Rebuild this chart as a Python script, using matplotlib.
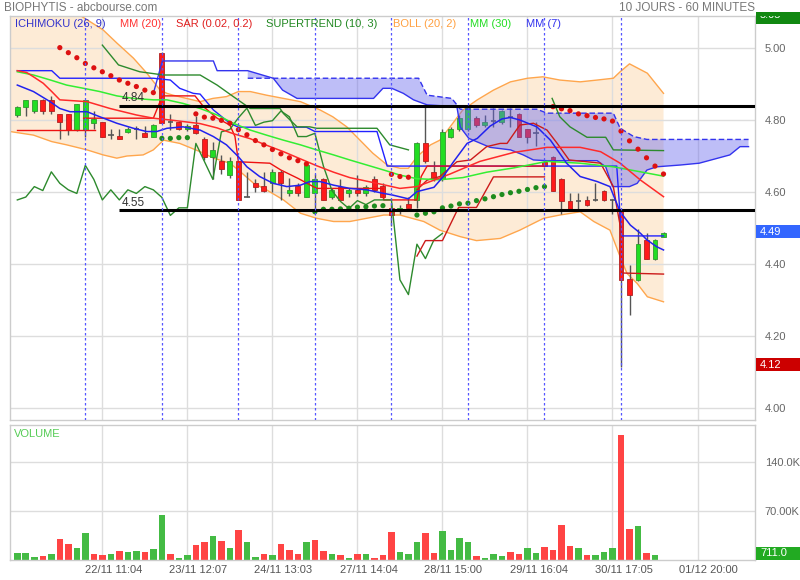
import numpy as np
import matplotlib
matplotlib.use('Agg')
import matplotlib.pyplot as plt
from matplotlib.patches import Rectangle
from matplotlib.transforms import blended_transform_factory, Bbox

plt.rcParams['font.family'] = ['Liberation Sans', 'DejaVu Sans']

# ---------------- data ----------------
opens = [4.815, 4.835, 4.824, 4.856, 4.856, 4.817, 4.817, 4.772, 4.772, 4.793,
         4.794, 4.757, 4.756, 4.766, 4.774, 4.765, 4.754, 4.985, 4.794, 4.795,
         4.775, 4.785, 4.746, 4.696, 4.685, 4.646, 4.685, 4.586, 4.624, 4.617,
         4.624, 4.656, 4.596, 4.617, 4.585, 4.596, 4.635, 4.585, 4.615, 4.596,
         4.606, 4.596, 4.635, 4.617, 4.556, 4.546, 4.567, 4.578, 4.735, 4.656,
         4.635, 4.754, 4.774, 4.774, 4.806, 4.785, 4.798, 4.794, 4.809, 4.817,
         4.774, 4.763, 4.684, 4.696, 4.637, 4.576, 4.576, 4.578, 4.578, 4.604,
         4.578, 4.547, 4.358, 4.356, 4.467, 4.415, 4.476]
highs = [4.840, 4.856, 4.856, 4.858, 4.867, 4.817, 4.817, 4.844, 4.856, 4.826,
         4.794, 4.776, 4.776, 4.780, 4.783, 4.783, 4.790, 4.990, 4.817, 4.797,
         4.790, 4.810, 4.754, 4.740, 4.702, 4.696, 4.685, 4.656, 4.637, 4.656,
         4.665, 4.660, 4.640, 4.625, 4.680, 4.650, 4.640, 4.610, 4.635, 4.610,
         4.646, 4.620, 4.645, 4.625, 4.570, 4.565, 4.585, 4.740, 4.837, 4.685,
         4.776, 4.780, 4.815, 4.838, 4.810, 4.815, 4.833, 4.828, 4.833, 4.820,
         4.776, 4.794, 4.688, 4.700, 4.640, 4.598, 4.598, 4.590, 4.624, 4.606,
         4.580, 4.550, 4.396, 4.496, 4.487, 4.470, 4.488]
lows = [4.808, 4.810, 4.820, 4.817, 4.817, 4.748, 4.757, 4.770, 4.754, 4.776,
        4.754, 4.748, 4.746, 4.764, 4.748, 4.754, 4.752, 4.793, 4.772, 4.772,
        4.770, 4.760, 4.690, 4.635, 4.650, 4.640, 4.578, 4.585, 4.600, 4.600,
        4.600, 4.578, 4.590, 4.590, 4.585, 4.550, 4.578, 4.580, 4.578, 4.585,
        4.590, 4.590, 4.600, 4.580, 4.505, 4.540, 4.555, 4.556, 4.680, 4.630,
        4.630, 4.750, 4.770, 4.770, 4.780, 4.780, 4.781, 4.790, 4.781, 4.754,
        4.737, 4.728, 4.670, 4.604, 4.539, 4.550, 4.554, 4.560, 4.575, 4.575,
        4.539, 4.115, 4.259, 4.354, 4.413, 4.410, 4.476]
closes = [4.835, 4.856, 4.856, 4.824, 4.824, 4.794, 4.772, 4.844, 4.856, 4.803,
          4.754, 4.757, 4.746, 4.774, 4.774, 4.754, 4.785, 4.793, 4.794, 4.774,
          4.784, 4.765, 4.696, 4.717, 4.665, 4.685, 4.578, 4.586, 4.615, 4.604,
          4.656, 4.624, 4.606, 4.596, 4.674, 4.635, 4.578, 4.606, 4.578, 4.606,
          4.596, 4.615, 4.606, 4.585, 4.535, 4.556, 4.556, 4.735, 4.685, 4.635,
          4.767, 4.774, 4.806, 4.833, 4.785, 4.794, 4.798, 4.825, 4.809, 4.754,
          4.754, 4.763, 4.672, 4.604, 4.574, 4.554, 4.576, 4.565, 4.578, 4.578,
          4.578, 4.356, 4.315, 4.455, 4.415, 4.467, 4.485]
volumes_k = [10, 10, 4.3, 5.7, 8.6, 30, 23, 17, 39, 8.6,
             7.6, 8, 13, 11, 13, 11.4, 15.7, 64, 9, 3.3,
             7, 21, 26, 34, 27, 17, 43, 26, 3.8, 8,
             6.7, 23, 14, 8.6, 26, 28.6, 13, 9, 7, 3.3,
             8.6, 8, 3.3, 7, 40, 11, 8.6, 26, 38.6, 9.5,
             42, 14, 32, 26, 5.7, 2.4, 8.6, 5.2, 12, 8.6,
             17, 10, 19, 15, 50, 20.5, 17.6, 7, 7, 11.4,
             17, 179, 45, 48.6, 9.5, 7, 0.711]
volume_dir = "gggrgrrggrrgrggrggrggrrgrgrggrgrrrgrrgrgrgrrrgggrrggggrgggrrggrrrrgrgggrrgrgg"

sar_values = [5.001, 4.987, 4.973, 4.957, 4.945, 4.934, 4.923, 4.911, 4.902, 4.893, 4.883, 4.876,
              4.749, 4.749, 4.751, 4.751,
              4.817, 4.808, 4.805, 4.799, 4.791, 4.773, 4.759, 4.743, 4.731, 4.718, 4.706, 4.695, 4.687, 4.678,
              4.545, 4.552, 4.552, 4.553, 4.555, 4.558, 4.559, 4.561, 4.562,
              4.649, 4.643, 4.641,
              4.536, 4.541, 4.545, 4.556, 4.561, 4.567, 4.569, 4.576, 4.581, 4.587, 4.593, 4.598, 4.602, 4.607, 4.612, 4.615,
              4.837, 4.831, 4.826, 4.817, 4.812, 4.807, 4.803, 4.797, 4.769, 4.742, 4.719, 4.695, 4.672, 4.650]
sar_first = 5

boll_up_k = [-0.86, 3, 6, 7.9, 10.1, 11.7, 13.65, 15.2, 16.8, 17.6, 18.3, 19.9, 21.5, 23.0, 24.6, 26.0,
             27.4, 29.3, 31.3, 33.3, 35.6, 37.1, 38.75, 40.3, 41.8, 43.5, 45.0, 46.0, 47.0, 48.6, 49.7,
             50.9, 52.4, 54.1, 56.0, 58.0, 60.0, 61.8, 63.8, 66.2, 68.2, 70.1, 70.9, 72.0, 74.1, 76.0]
boll_up_p = [5.20, 5.16, 5.11, 5.083, 5.05, 5.014, 4.972, 4.931, 4.883, 4.874, 4.869, 4.860, 4.851, 4.860,
             4.865, 4.879, 4.879, 4.869, 4.860, 4.851, 4.828, 4.809, 4.781, 4.744, 4.708, 4.675, 4.666,
             4.666, 4.698, 4.731, 4.744, 4.781, 4.828, 4.856, 4.883, 4.906, 4.916, 4.920, 4.911, 4.906,
             4.911, 4.916, 4.934, 4.956, 4.930, 4.874]
boll_lo_k = [-0.86, 1.9, 4.05, 5.8, 8.2, 10.1, 11.7, 12.9, 14.8, 16.0, 17.2, 19.1, 21.5, 23.1, 25.0,
             26.0, 27.8, 29.3, 31.3, 33.3, 35.2, 37.2, 39.1, 41.1, 43.1, 45.0, 47.8, 49.7, 52.1, 54.0,
             56.8, 59.1, 61.9, 63.8, 66.2, 67.8, 69.7, 70.9, 71.7, 72.9, 74.1, 76.0]
boll_lo_p = [4.768, 4.758, 4.740, 4.731, 4.717, 4.703, 4.694, 4.700, 4.703, 4.717, 4.744, 4.735,
             4.712, 4.694, 4.680, 4.661, 4.624, 4.606, 4.578, 4.541, 4.527, 4.518, 4.518, 4.527,
             4.536, 4.536, 4.518, 4.494, 4.476, 4.465, 4.471, 4.494, 4.527, 4.536, 4.545, 4.518,
             4.494, 4.420, 4.374, 4.346, 4.309, 4.295]

mm20_k = [0, 1.1, 1.9, 3.05, 4.05, 5.0, 8.2, 10.9, 14.0, 16.0, 18.0, 21.5, 23.5, 25.4, 27.4, 29.3,
          31.3, 33.3, 35.2, 37.2, 39.1, 41.1, 43.1, 45.0, 47.0, 50.9, 54.4, 58.4, 62.3, 66.2, 68.6,
          70.9, 73.3, 76.0]
mm20_p = [4.937, 4.932, 4.920, 4.902, 4.879, 4.856, 4.851, 4.832, 4.814, 4.805, 4.800, 4.790, 4.778,
          4.762, 4.748, 4.730, 4.712, 4.692, 4.673, 4.655, 4.640, 4.630, 4.620, 4.610, 4.615, 4.650,
          4.685, 4.710, 4.724, 4.724, 4.712, 4.680, 4.633, 4.587]
mm30_k = [0, 1.9, 3.9, 5.8, 7.8, 9.7, 11.7, 13.65, 16.0, 17.6, 19.5, 21.5, 23.5, 25.4, 27.4, 29.3,
          31.3, 33.3, 35.2, 37.2, 39.1, 41.1, 43.1, 45.0, 47.0, 49.7, 52.4, 55.2, 58.4, 62.3, 66.2,
          70.1, 73.3, 76.0]
mm30_p = [4.934, 4.925, 4.911, 4.897, 4.888, 4.879, 4.867, 4.860, 4.856, 4.856, 4.846, 4.832, 4.814,
          4.791, 4.772, 4.758, 4.744, 4.731, 4.717, 4.703, 4.689, 4.675, 4.661, 4.647, 4.637, 4.634,
          4.640, 4.655, 4.667, 4.685, 4.680, 4.670, 4.656, 4.644]
mm7_k = [0, 1.9, 3.85, 5.0, 6.2, 8.2, 9.7, 11.7, 13.65, 15.2, 16.4, 17.6, 19.5, 21.5, 23.06, 24.6,
         26.0, 27.0, 28.5, 30.1, 31.7, 33.3, 34.4, 35.6, 37.2, 39.1, 41.1, 43.1, 44.05, 46.0, 47.0,
         49.0, 50.1, 51.3, 52.9, 54.1, 55.6, 57.0, 58.0, 59.1, 61.1, 62.7, 64.6, 66.2, 68.2, 69.7,
         70.9, 72.1, 73.3, 74.05, 75.2, 76.0]
mm7_p = [4.897, 4.879, 4.851, 4.832, 4.823, 4.823, 4.809, 4.791, 4.777, 4.768, 4.768, 4.777, 4.781,
         4.772, 4.754, 4.731, 4.698, 4.670, 4.643, 4.624, 4.615, 4.619, 4.629, 4.629, 4.619, 4.610,
         4.606, 4.596, 4.592, 4.581, 4.601, 4.613, 4.643, 4.684, 4.735, 4.749, 4.783, 4.803, 4.807,
         4.800, 4.781, 4.744, 4.680, 4.643, 4.629, 4.615, 4.545, 4.508, 4.485, 4.467, 4.448, 4.439]

kijun_k = [0, 4.05, 5.0, 16.0, 18.0, 19.1, 20.7, 21.5, 23.06, 25.0, 26.0, 34.0, 35.0, 42.3, 43.5,
           70.5, 71.06, 76.0]
kijun_p = [4.937, 4.937, 4.916, 4.916, 4.911, 4.888, 4.874, 4.872, 4.828, 4.791, 4.780, 4.780,
           4.768, 4.768, 4.672, 4.672, 4.478, 4.478]
span_a_k = [16.0, 17.06, 23.06, 23.5, 27.1, 30.1, 31.2, 32.9, 41.9, 43.0, 44.05, 45.4, 46.6, 48.2,
            51.7, 52.1, 53.1, 55.6, 58.0, 59.5, 60.7, 62.3, 68.2, 69.2, 70.0, 72.0, 72.9, 74.05,
            75.2, 78.0, 80.2, 83.8, 85.0, 86.0]
span_a_p = [4.874, 4.964, 4.964, 4.937, 4.937, 4.916, 4.883, 4.860, 4.860, 4.888, 4.888, 4.874,
            4.856, 4.842, 4.837, 4.780, 4.749, 4.724, 4.717, 4.703, 4.689, 4.687, 4.687, 4.670,
            4.615, 4.615, 4.624, 4.661, 4.670, 4.675, 4.680, 4.703, 4.726, 4.726]
span_b_k = [27.1, 47.2, 48.2, 51.1, 52.1, 61.1, 62.3, 70.1, 70.9, 72.5, 74.05, 86.0]
span_b_p = [4.916, 4.916, 4.869, 4.860, 4.830, 4.830, 4.819, 4.819, 4.777, 4.754, 4.746, 4.746]
cloud_start = 4  # index in span_a where the shaded cloud begins

red_a_k = [0, 9.1]
red_a_p = [4.772, 4.772]
red_b_k = [7.8, 16.0, 17.06, 20.9, 21.9, 23.5, 25.0, 25.6, 26.0, 29.7, 31.0, 33.0, 35.2, 43.0,
           43.1, 47.0, 47.5, 48.2, 62.0]
red_b_p = [4.805, 4.805, 4.867, 4.867, 4.837, 4.805, 4.786, 4.754, 4.684, 4.680, 4.661, 4.638,
           4.610, 4.610, 4.578, 4.578, 4.643, 4.672, 4.672]
tenkan_k = [47.0, 48.2, 49.7, 51.7, 53.3, 55.2, 56.8, 57.6, 59.1, 60.7, 62.3, 63.5, 64.9, 68.6,
            70.1, 70.5, 71.0, 71.1, 76.0]
tenkan_p = [4.606, 4.633, 4.643, 4.684, 4.689, 4.726, 4.735, 4.735, 4.786, 4.791, 4.772, 4.735,
            4.689, 4.680, 4.615, 4.559, 4.494, 4.375, 4.372]
st_up_k = [47.0, 48.0, 50.0, 51.9, 54.0, 56.0, 62.0]
st_up_p = [4.422, 4.465, 4.465, 4.557, 4.557, 4.642, 4.642]
st1_k = [10.0, 11.9, 14.4, 17.2, 21.5, 23.5, 25.4, 27.4, 30.9, 31.3, 32.9, 34.4, 35.2, 42.3, 43.8, 46.0]
st1_p = [5.008, 4.953, 4.934, 4.925, 4.925, 4.897, 4.865, 4.832, 4.832, 4.818, 4.781, 4.781,
         4.777, 4.777, 4.731, 4.717]
st2_k = [62.9, 63.8, 65.0, 67.0, 69.2, 70.1, 76.0]
st2_p = [4.860, 4.809, 4.781, 4.752, 4.752, 4.717, 4.715]
chikou_shift = 26

levels = [4.84, 4.55]
level_start = 11.96
day_starts = [8, 17, 26, 35, 44, 53, 62, 71]
date_ticks = [10, 20, 30, 40, 50, 60, 70, 80]
date_labels = ['22/11 11:04', '23/11 12:07', '24/11 13:03', '27/11 14:04',
               '28/11 15:00', '29/11 16:04', '30/11 17:05', '01/12 20:00']
price_ticks = [4.00, 4.20, 4.40, 4.60, 4.80, 5.00]
vol_ticks = [70, 140]
vol_tick_labels = ['70.00K', '140.0K']
last_price = 4.49
low_price = 4.12
top_label = '5.05'
legend_items = [('ICHIMOKU (26, 9)', '#3333cc'), ('MM (20)', '#ff3333'),
                ('SAR (0.02, 0.2)', '#e02020'), ('SUPERTREND (10, 3)', '#228822'),
                ('BOLL (20, 2)', '#ffa040'), ('MM (30)', '#22dd22'), ('MM (7)', '#3333ee')]
legend_x = [15, 120, 176, 266, 393, 470, 526]

# ---------------- layout ----------------
W, H = 800, 580
fig = plt.figure(figsize=(W / 100, H / 100), dpi=100)
fig.patch.set_facecolor('white')


def rect(l, t, r, b):
    return [l / W, 1 - b / H, (r - l) / W, (b - t) / H]


ax = fig.add_axes(rect(10, 16, 755, 420))
axv = fig.add_axes(rect(10, 425, 755, 560))
XMIN, XMAX = -0.86, 86.76
ax.set_xlim(XMIN, XMAX)
ax.set_ylim(5 - (420 - 48) / 360, 5 + (48 - 16) / 360)
axv.set_xlim(XMIN, XMAX)
axv.set_ylim(0, (560 - 425) / 0.7)

for a in (ax, axv):
    for s in a.spines.values():
        s.set_color('#cccccc')
        s.set_linewidth(1)
    a.set_xticks(date_ticks)
    a.tick_params(axis='x', length=0, labelbottom=False)
    a.yaxis.tick_right()
    a.tick_params(axis='y', length=0, pad=7, labelsize=8, labelcolor='#666666')
    for kk in date_ticks:
        a.axvline(kk, color='#dddddd', lw=1, zorder=1.5)

ax.set_yticks(price_ticks)
ax.set_yticklabels([f'{v:.2f}' for v in price_ticks])
for v in price_ticks:
    ax.axhline(v, color='#dddddd', lw=1, zorder=1.5)
axv.set_yticks(vol_ticks)
axv.set_yticklabels(vol_tick_labels)
for v in vol_ticks:
    axv.axhline(v, color='#dddddd', lw=1, zorder=1.5)

# ---------------- Bollinger ----------------
ax.fill(np.r_[boll_up_k, boll_lo_k[::-1]], np.r_[boll_up_p, boll_lo_p[::-1]],
        facecolor='#fdebd6', edgecolor='none', zorder=1)
ax.plot(boll_up_k, boll_up_p, color='#ffa64d', lw=1, zorder=2)
ax.plot(boll_lo_k, boll_lo_p, color='#ffa64d', lw=1, zorder=2)

# ---------------- candles ----------------
o = np.array(opens); c = np.array(closes); h = np.array(highs); l = np.array(lows)
kk = np.arange(len(c))
up = c >= o
ax.vlines(kk, l, h, color='#555555', lw=1, zorder=3)
body_lo = np.minimum(o, c)
body_h = np.abs(c - o)
doji = body_h < 0.003
fc = np.where(up, '#22dd22', '#ff1a1a')
ec = np.where(up, '#2f9a2f', '#b02020')
m = ~doji
ax.bar(kk[m], body_h[m], bottom=body_lo[m], width=0.58, color=fc[m], edgecolor=ec[m],
       lw=0.6, zorder=3.2)
ax.hlines(c[doji], kk[doji] - 0.32, kk[doji] + 0.32, color='#555555', lw=1.2, zorder=3.2)

# ---------------- Ichimoku ----------------
cloud_x = np.r_[span_a_k[cloud_start:], span_b_k[::-1]]
cloud_y = np.r_[span_a_p[cloud_start:], span_b_p[::-1]]
ax.fill(cloud_x, cloud_y, facecolor='#6666ee', alpha=0.42, edgecolor='none', zorder=3.5)
ax.plot(span_a_k, span_a_p, color='#3333ee', lw=1, zorder=4)
ax.plot(span_b_k, span_b_p, color='#3333ee', lw=1, ls=(0, (4, 2)), zorder=4)
ax.plot(kijun_k, kijun_p, color='#2222ff', lw=1, zorder=4)
ax.plot(red_a_k, red_a_p, color='#ee1111', lw=1, zorder=4)
ax.plot(red_b_k, red_b_p, color='#ee1111', lw=1, zorder=4)
ax.plot(tenkan_k, tenkan_p, color='#cc1a1a', lw=1, zorder=4)
ax.plot(kk[:len(c) - chikou_shift], c[chikou_shift:], color='#2d8a2d', lw=1, zorder=4)

# ---------------- moving averages / supertrend ----------------
ax.plot(mm30_k, mm30_p, color='#33ee33', lw=1.1, zorder=4.1)
ax.plot(mm20_k, mm20_p, color='#ff2a2a', lw=1.1, zorder=4.1)
ax.plot(mm7_k, mm7_p, color='#2222ee', lw=1.1, zorder=4.2)
ax.plot(st1_k, st1_p, color='#2d8a2d', lw=1, zorder=4)
ax.plot(st2_k, st2_p, color='#2d8a2d', lw=1, zorder=4)
ax.plot(st_up_k, st_up_p, color='#cc1a1a', lw=1, zorder=4)

# ---------------- SAR ----------------
sar_k = np.arange(sar_first, sar_first + len(sar_values))
sar = np.array(sar_values)
sar_col = np.where(sar > c[sar_k], '#dd1111', '#1e8c1e')
ax.scatter(sar_k, sar, s=14, c=sar_col, linewidths=0, zorder=5)

# ---------------- levels / separators ----------------
for v in levels:
    ax.hlines(v, level_start, XMAX, color='black', lw=2.2, zorder=6)
    ax.text(level_start + 0.3, v + 0.004, f'{v:.2f}', fontsize=8.5, color='#333333',
            ha='left', va='bottom', zorder=6)
for d in day_starts:
    ax.axvline(d, color='#5555ff', lw=0.9, ls=(0, (2, 2)), zorder=6)

# ---------------- volume ----------------
vcol = ['#44bb44' if ch == 'g' else '#ff4444' for ch in volume_dir]
axv.bar(np.arange(len(volumes_k)), volumes_k, width=0.78, color=vcol, zorder=2)
axv.text(4 / 745, 1 - 9 / 135, 'VOLUME', transform=axv.transAxes, fontsize=8,
         color='#55cc55', ha='left', va='center')
tr_dates = blended_transform_factory(axv.transData, axv.transAxes)
for kx, lab in zip(date_ticks, date_labels):
    axv.text(kx + 1.3, -10 / 135, lab, transform=tr_dates, fontsize=8, color='#555555',
             ha='center', va='center')

# ---------------- right side value boxes ----------------
tr_p = blended_transform_factory(fig.transFigure, ax.transData)
box_h = 13 / 360
for val, col in ((last_price, '#3366ff'), (low_price, '#cc0000')):
    fig.add_artist(Rectangle((756 / W, val - box_h / 2), 44 / W, box_h, transform=tr_p,
                             facecolor=col, edgecolor='none'))
    fig.text(760 / W, val, f'{val:.2f}', transform=tr_p, color='white', fontsize=8,
             ha='left', va='center')

vol_box = 13 * (axv.get_ylim()[1] / 135)
vol_last = volumes_k[-1]
vol_center = max(vol_last, vol_box / 2)
tr_v = blended_transform_factory(fig.transFigure, axv.transData)
fig.add_artist(Rectangle((756 / W, vol_center - vol_box / 2), 44 / W, vol_box, transform=tr_v,
                         facecolor='#22aa22', edgecolor='none'))
fig.text(760 / W, vol_center, f'{vol_last * 1000:.1f}', transform=tr_v, color='white',
         fontsize=8, ha='left', va='center')

fig.add_artist(Rectangle((756 / W, 1 - 24 / H), 44 / W, 12 / H, transform=fig.transFigure,
                         facecolor='#118811', edgecolor='none'))
t = fig.text(760 / W, 1 - 15 / H, top_label, color='white', fontsize=8, ha='left', va='center')
t.set_clip_box(Bbox.from_extents(700, 0, 800, H - 16))
t.set_clip_on(True)

# ---------------- header / legend ----------------
fig.text(4 / W, 1 - 8 / H, 'BIOPHYTIS - abcbourse.com', fontsize=8.5, color='#777777',
         ha='left', va='center')
fig.text(755 / W, 1 - 8 / H, '10 JOURS - 60 MINUTES', fontsize=8.5, color='#777777',
         ha='right', va='center')
for (txt, col), x in zip(legend_items, legend_x):
    fig.text(x / W, 1 - 24 / H, txt, fontsize=8, color=col, ha='left', va='center')

fig.savefig('out.png', dpi=100)
